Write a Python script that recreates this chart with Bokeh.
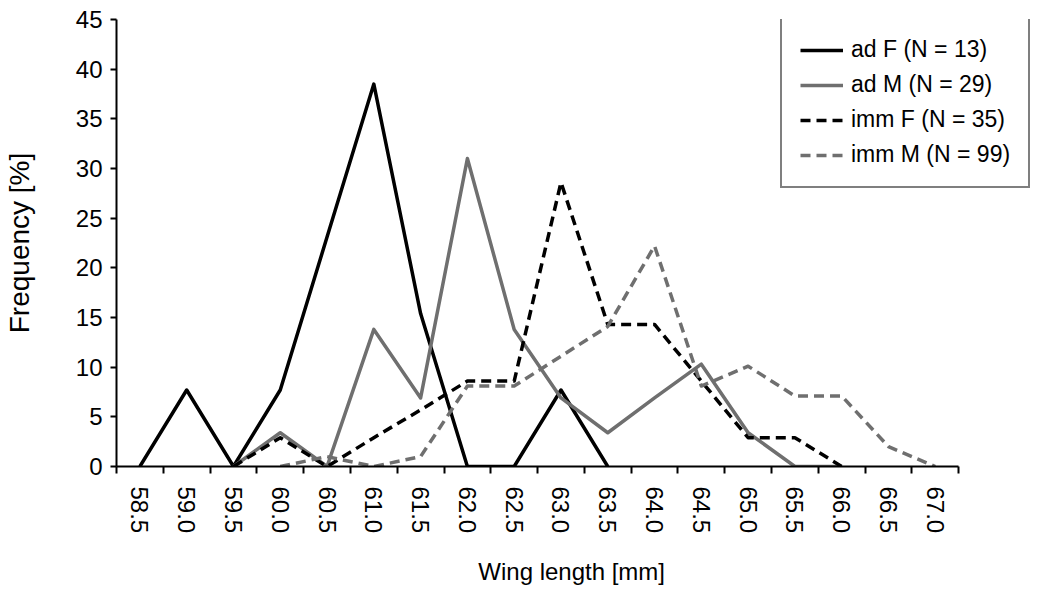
import numpy as np
from bokeh.plotting import figure
from bokeh.models import FixedTicker, Legend, LegendItem, Range1d
from bokeh.embed import file_html
from bokeh.resources import INLINE

categories = ["58.5", "59.0", "59.5", "60.0", "60.5", "61.0", "61.5", "62.0", "62.5",
              "63.0", "63.5", "64.0", "64.5", "65.0", "65.5", "66.0", "66.5", "67.0"]
nan = np.nan
ad_f = [0, 7.7, 0, 7.7, 23.1, 38.5, 15.4, 0, 0, 7.7, 0, nan, nan, nan, nan, nan, nan, nan]
ad_m = [nan, nan, 0, 3.4, 0, 13.8, 6.9, 31.0, 13.8, 6.9, 3.4, 6.9, 10.3, 3.4, 0, 0, nan, nan]
imm_f = [nan, nan, 0, 2.9, 0, 2.9, 5.7, 8.6, 8.6, 28.6, 14.3, 14.3, 8.6, 2.9, 2.9, 0, nan, nan]
imm_m = [nan, nan, nan, 0, 1.0, 0, 1.0, 8.1, 8.1, 11.1, 14.1, 22.2, 8.1, 10.1, 7.1, 7.1, 2.0, 0]
y_ticks = [0, 5, 10, 15, 20, 25, 30, 35, 40, 45]

FONT = "Liberation Sans"
GRAY = "#6f6f6f"

W, H = 1035, 588
FRAME_L, FRAME_T, FRAME_B = 114, 19, 467
AXIS_R = 958          # where the category axis ends
FRAME_R = 1033        # frame extends further so the legend is not clipped

n = len(categories)
xc = np.arange(n) + 0.5
x_end = n * (FRAME_R - FRAME_L) / (AXIS_R - FRAME_L)

p = figure(width=W, height=H, output_backend="svg", toolbar_location=None,
           x_range=Range1d(0, x_end), y_range=Range1d(0, 45),
           min_border_left=FRAME_L, min_border_right=W - FRAME_R,
           min_border_top=FRAME_T, min_border_bottom=H - FRAME_B)
p.outline_line_color = None
p.xgrid.visible = False
p.ygrid.visible = False
p.background_fill_color = "white"
p.border_fill_color = "white"

p.xaxis.bounds = (0, n)
p.xaxis.ticker = FixedTicker(ticks=list(xc), minor_ticks=list(range(n + 1)))
p.xaxis.major_label_overrides = {float(x): c for x, c in zip(xc, categories)}
p.xaxis.major_label_orientation = "vertical"
p.xaxis.major_tick_line_color = None
p.xaxis.minor_tick_line_color = "black"
p.xaxis.minor_tick_line_width = 2
p.xaxis.minor_tick_out = 7
p.xaxis.minor_tick_in = 0
p.xaxis.major_tick_out = 7
p.xaxis.major_label_standoff = 13
p.xaxis.axis_label = "Wing length  [mm]"
p.xaxis.axis_label_standoff = 22
p.xaxis.axis_label_text_font_size = "24px"

p.yaxis.ticker = FixedTicker(ticks=y_ticks)
p.yaxis.minor_tick_line_color = None
p.yaxis.major_tick_out = 6
p.yaxis.major_tick_in = 0
p.yaxis.major_tick_line_width = 2
p.yaxis.major_label_standoff = 8
p.yaxis.axis_label = "Frequency [%]"
p.yaxis.axis_label_standoff = 38
p.yaxis.axis_label_text_font_size = "28px"

for ax in (p.xaxis, p.yaxis):
    ax.axis_line_width = 2
    ax.axis_line_color = "black"
    ax.major_label_text_font = FONT
    ax.major_label_text_font_size = "24px"
    ax.major_label_text_color = "black"
    ax.axis_label_text_font = FONT
    ax.axis_label_text_font_style = "normal"
    ax.axis_label_text_color = "black"

LW = 3.5
r1 = p.line(xc, ad_f, line_color="black", line_width=LW, line_join="round")
r2 = p.line(xc, ad_m, line_color=GRAY, line_width=LW, line_join="round")
r3 = p.line(xc, imm_f, line_color="black", line_width=LW, line_dash="10 6", line_join="round")
r4 = p.line(xc, imm_m, line_color=GRAY, line_width=LW, line_dash="10 6", line_join="round")

legend = Legend(items=[
    LegendItem(label="ad F (N = 13)", renderers=[r1]),
    LegendItem(label="ad M (N = 29)", renderers=[r2]),
    LegendItem(label="imm F (N = 35)", renderers=[r3]),
    LegendItem(label="imm M (N = 99)", renderers=[r4]),
], location=(664, 278))
legend.label_text_font = FONT
legend.label_text_font_size = "23px"
legend.label_text_color = "black"
legend.glyph_width = 43
legend.glyph_height = 26
legend.label_height = 26
legend.label_standoff = 8
legend.spacing = 8
legend.padding = 18
legend.margin = 0
legend.border_line_color = "black"
legend.border_line_width = 2
legend.background_fill_color = "white"
legend.background_fill_alpha = 1.0
p.add_layout(legend, "center")

open("out.html", "w").write(file_html(p, INLINE))
